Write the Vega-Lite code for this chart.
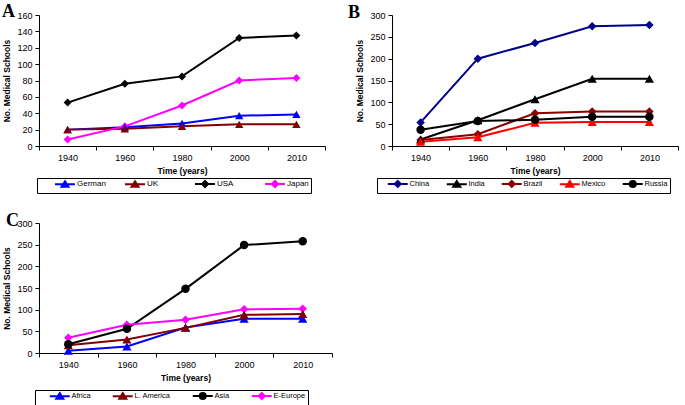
{
  "$schema": "https://vega.github.io/schema/vega-lite/v6.json",
  "background": "white",
  "padding": {"left": 2, "top": 3, "right": 5, "bottom": 0},
  "spacing": 18,
  "config": {
    "view": {"stroke": null},
    "font": "Liberation Sans",
    "axis": {"grid": false, "domainColor": "#000", "tickColor": "#000", "labelColor": "#000", "titleColor": "#000", "labelFontSize": 9, "titleFontSize": 8.5, "titleFontWeight": "bold", "tickSize": 4, "labelFont": "Liberation Sans", "titleFont": "Liberation Sans", "labelPadding": 3},
    "legend": {"labelColor": "#000", "labelFont": "Liberation Sans", "labelFontSize": 8}
  },
  "vconcat": [
    {
      "hconcat": [
        {
          "width": 286, "height": 131,
          "title": {"text": "A", "anchor": "start", "frame": "group", "font": "Liberation Serif", "fontSize": 18, "fontWeight": "bold", "color": "#000", "dx": -37, "offset": -24, "baseline": "alphabetic"},
          "data": {"values": [
            {"year": "1940", "series": "German", "value": 20}, {"year": "1960", "series": "German", "value": 23}, {"year": "1980", "series": "German", "value": 27.5}, {"year": "2000", "series": "German", "value": 37}, {"year": "2010", "series": "German", "value": 38.5},
            {"year": "1940", "series": "UK", "value": 20}, {"year": "1960", "series": "UK", "value": 21}, {"year": "1980", "series": "UK", "value": 24}, {"year": "2000", "series": "UK", "value": 26.5}, {"year": "2010", "series": "UK", "value": 26.5},
            {"year": "1940", "series": "USA", "value": 53}, {"year": "1960", "series": "USA", "value": 76}, {"year": "1980", "series": "USA", "value": 85}, {"year": "2000", "series": "USA", "value": 132}, {"year": "2010", "series": "USA", "value": 135},
            {"year": "1940", "series": "Japan", "value": 8}, {"year": "1960", "series": "Japan", "value": 24}, {"year": "1980", "series": "Japan", "value": 49.5}, {"year": "2000", "series": "Japan", "value": 80}, {"year": "2010", "series": "Japan", "value": 83}
          ]},
          "encoding": {
            "x": {"field": "year", "type": "ordinal", "sort": null, "bandPosition": 0.5, "scale": {"type": "band", "padding": 0}, "axis": {"title": "Time (years)", "labelAngle": 0, "tickBand": "extent", "titlePadding": 4}},
            "y": {"field": "value", "type": "quantitative", "scale": {"domain": [0, 160]}, "axis": {"title": "No. Medical Schools", "values": [0, 20, 40, 60, 80, 100, 120, 140, 160], "titlePadding": 5}}
          },
          "layer": [
            {"mark": {"type": "line", "strokeWidth": 2}, "encoding": {"color": {"field": "series", "type": "nominal", "scale": {"domain": ["German", "UK", "USA", "Japan"], "range": ["#0000FF", "#800000", "#000000", "#FF00FF"]}}}},
            {"transform": [{"filter": "datum.series == 'USA' || datum.series == 'Japan'"}], "mark": {"type": "point", "shape": "diamond", "filled": true, "size": 64, "opacity": 1}, "encoding": {"color": {"field": "series", "type": "nominal"}}},
            {"transform": [{"filter": "datum.series == 'German' || datum.series == 'UK'"}], "mark": {"type": "point", "shape": "triangle-up", "filled": true, "size": 70, "opacity": 1}, "encoding": {"color": {"field": "series", "type": "nominal"}}},
            {"transform": [{"filter": "false"}], "mark": {"type": "point", "filled": false, "opacity": 1, "strokeWidth": 2},
             "encoding": {
               "color": {"field": "series", "type": "nominal", "legend": {"title": null, "orient": "none", "legendX": -2, "legendY": 163, "direction": "horizontal", "columns": 4, "gridAlign": "all", "strokeColor": "#000", "padding": 2, "symbolSize": 4, "symbolStrokeWidth": 2, "symbolOffset": 12, "labelOffset": 18, "columnPadding": 3}},
               "shape": {"field": "series", "type": "nominal", "scale": {"domain": ["German", "UK", "USA", "Japan"], "range": ["M0,0H20M10,-3L13.5,2.5L6.5,2.5ZM10,-0.5L11.2,1.3L8.8,1.3Z", "M0,0H20M10,-3L13.5,2.5L6.5,2.5ZM10,-0.5L11.2,1.3L8.8,1.3Z", "M0,0H20M10,-3L13,0L10,3L7,0ZM10,-1L11,0L10,1L9,0Z", "M0,0H20M10,-3L13,0L10,3L7,0ZM10,-1L11,0L10,1L9,0Z"]}, "legend": {"title": null, "orient": "none", "legendX": -2, "legendY": 163, "direction": "horizontal", "columns": 4, "gridAlign": "all", "strokeColor": "#000", "padding": 2, "symbolSize": 4, "symbolStrokeWidth": 2, "symbolOffset": 12, "labelOffset": 18, "columnPadding": 3}}
             }}
          ]
        },
        {
          "width": 286, "height": 131,
          "title": {"text": "B", "anchor": "start", "frame": "group", "font": "Liberation Serif", "fontSize": 18, "fontWeight": "bold", "color": "#000", "dx": -44, "offset": -25, "baseline": "alphabetic"},
          "data": {"values": [
            {"year": "1940", "series": "China", "value": 54}, {"year": "1960", "series": "China", "value": 200}, {"year": "1980", "series": "China", "value": 236}, {"year": "2000", "series": "China", "value": 274}, {"year": "2010", "series": "China", "value": 277},
            {"year": "1940", "series": "India", "value": 15}, {"year": "1960", "series": "India", "value": 59}, {"year": "1980", "series": "India", "value": 107}, {"year": "2000", "series": "India", "value": 154}, {"year": "2010", "series": "India", "value": 154},
            {"year": "1940", "series": "Brazil", "value": 14}, {"year": "1960", "series": "Brazil", "value": 27}, {"year": "1980", "series": "Brazil", "value": 75}, {"year": "2000", "series": "Brazil", "value": 79}, {"year": "2010", "series": "Brazil", "value": 79},
            {"year": "1940", "series": "Mexico", "value": 10}, {"year": "1960", "series": "Mexico", "value": 20}, {"year": "1980", "series": "Mexico", "value": 53}, {"year": "2000", "series": "Mexico", "value": 55}, {"year": "2010", "series": "Mexico", "value": 55},
            {"year": "1940", "series": "Russia", "value": 37}, {"year": "1960", "series": "Russia", "value": 57}, {"year": "1980", "series": "Russia", "value": 60}, {"year": "2000", "series": "Russia", "value": 67}, {"year": "2010", "series": "Russia", "value": 67}
          ]},
          "encoding": {
            "x": {"field": "year", "type": "ordinal", "sort": null, "bandPosition": 0.5, "scale": {"type": "band", "padding": 0}, "axis": {"title": "Time (years)", "labelAngle": 0, "tickBand": "extent", "titlePadding": 4}},
            "y": {"field": "value", "type": "quantitative", "scale": {"domain": [0, 300]}, "axis": {"title": "No. Medical Schools", "values": [0, 50, 100, 150, 200, 250, 300], "titlePadding": 5}}
          },
          "layer": [
            {"mark": {"type": "line", "strokeWidth": 2}, "encoding": {"color": {"field": "series", "type": "nominal", "scale": {"domain": ["China", "India", "Brazil", "Mexico", "Russia"], "range": ["#00008B", "#000000", "#8B0000", "#FF0000", "#000000"]}}}},
            {"transform": [{"filter": "datum.series == 'China' || datum.series == 'Brazil'"}], "mark": {"type": "point", "shape": "diamond", "filled": true, "size": 72, "opacity": 1}, "encoding": {"color": {"field": "series", "type": "nominal"}}},
            {"transform": [{"filter": "datum.series == 'India' || datum.series == 'Mexico'"}], "mark": {"type": "point", "shape": "triangle-up", "filled": true, "size": 85, "opacity": 1}, "encoding": {"color": {"field": "series", "type": "nominal"}}},
            {"transform": [{"filter": "datum.series == 'Russia'"}], "mark": {"type": "point", "shape": "circle", "filled": true, "size": 72, "opacity": 1}, "encoding": {"color": {"field": "series", "type": "nominal"}}},
            {"transform": [{"filter": "false"}], "mark": {"type": "point", "filled": false, "opacity": 1, "strokeWidth": 2},
             "encoding": {
               "color": {"field": "series", "type": "nominal", "legend": {"title": null, "orient": "none", "legendX": -15, "legendY": 163, "direction": "horizontal", "columns": 5, "strokeColor": "#000", "padding": 2, "symbolSize": 4, "symbolStrokeWidth": 2, "symbolOffset": 5, "labelOffset": 18, "columnPadding": 8, "labelFontSize": 7.5}},
               "shape": {"field": "series", "type": "nominal", "scale": {"domain": ["China", "India", "Brazil", "Mexico", "Russia"], "range": ["M0,0H20M10,-3L13,0L10,3L7,0ZM10,-1L11,0L10,1L9,0Z", "M0,0H20M10,-3L13.5,2.5L6.5,2.5ZM10,-0.5L11.2,1.3L8.8,1.3Z", "M0,0H20M10,-3L13,0L10,3L7,0ZM10,-1L11,0L10,1L9,0Z", "M0,0H20M10,-3L13.5,2.5L6.5,2.5ZM10,-0.5L11.2,1.3L8.8,1.3Z", "M0,0H20M7,0A3,3 0 1,0 13,0A3,3 0 1,0 7,0ZM9,0A1,1 0 1,0 11,0A1,1 0 1,0 9,0Z"]}, "legend": {"title": null, "orient": "none", "legendX": -15, "legendY": 163, "direction": "horizontal", "columns": 5, "strokeColor": "#000", "padding": 2, "symbolSize": 4, "symbolStrokeWidth": 2, "symbolOffset": 5, "labelOffset": 18, "columnPadding": 8, "labelFontSize": 7.5}}
             }}
          ]
        }
      ],
      "spacing": 22,
      "resolve": {"scale": {"color": "independent", "shape": "independent", "x": "independent", "y": "independent"}, "legend": {"color": "independent", "shape": "independent"}}
    },
    {
      "width": 293, "height": 130,
      "title": {"text": "C", "anchor": "start", "frame": "group", "font": "Liberation Serif", "fontSize": 18, "fontWeight": "bold", "color": "#000", "dx": -33, "offset": -25, "baseline": "alphabetic"},
      "data": {"values": [
        {"year": "1940", "series": "Africa", "value": 5}, {"year": "1960", "series": "Africa", "value": 15}, {"year": "1980", "series": "Africa", "value": 59}, {"year": "2000", "series": "Africa", "value": 79}, {"year": "2010", "series": "Africa", "value": 79},
        {"year": "1940", "series": "L. America", "value": 18}, {"year": "1960", "series": "L. America", "value": 31}, {"year": "1980", "series": "L. America", "value": 58}, {"year": "2000", "series": "L. America", "value": 88}, {"year": "2010", "series": "L. America", "value": 90},
        {"year": "1940", "series": "Asia", "value": 20}, {"year": "1960", "series": "Asia", "value": 56}, {"year": "1980", "series": "Asia", "value": 148}, {"year": "2000", "series": "Asia", "value": 249}, {"year": "2010", "series": "Asia", "value": 258},
        {"year": "1940", "series": "E-Europe", "value": 35}, {"year": "1960", "series": "E-Europe", "value": 65}, {"year": "1980", "series": "E-Europe", "value": 77}, {"year": "2000", "series": "E-Europe", "value": 101}, {"year": "2010", "series": "E-Europe", "value": 102}
      ]},
      "encoding": {
        "x": {"field": "year", "type": "ordinal", "sort": null, "bandPosition": 0.5, "scale": {"type": "band", "padding": 0}, "axis": {"title": "Time (years)", "labelAngle": 0, "tickBand": "extent", "titlePadding": 4}},
        "y": {"field": "value", "type": "quantitative", "scale": {"domain": [0, 300]}, "axis": {"title": "No. Medical Schools", "values": [0, 50, 100, 150, 200, 250, 300], "titlePadding": 5}}
      },
      "layer": [
        {"mark": {"type": "line", "strokeWidth": 2}, "encoding": {"color": {"field": "series", "type": "nominal", "scale": {"domain": ["Africa", "L. America", "Asia", "E-Europe"], "range": ["#0000FF", "#800000", "#000000", "#FF00FF"]}}}},
        {"transform": [{"filter": "datum.series == 'E-Europe'"}], "mark": {"type": "point", "shape": "diamond", "filled": true, "size": 72, "opacity": 1}, "encoding": {"color": {"field": "series", "type": "nominal"}}},
        {"transform": [{"filter": "datum.series == 'Africa' || datum.series == 'L. America'"}], "mark": {"type": "point", "shape": "triangle-up", "filled": true, "size": 85, "opacity": 1}, "encoding": {"color": {"field": "series", "type": "nominal"}}},
        {"transform": [{"filter": "datum.series == 'Asia'"}], "mark": {"type": "point", "shape": "circle", "filled": true, "size": 72, "opacity": 1}, "encoding": {"color": {"field": "series", "type": "nominal"}}},
        {"transform": [{"filter": "false"}], "mark": {"type": "point", "filled": false, "opacity": 1, "strokeWidth": 2},
         "encoding": {
           "color": {"field": "series", "type": "nominal", "legend": {"title": null, "orient": "none", "legendX": -4, "legendY": 167, "direction": "horizontal", "columns": 4, "strokeColor": "#000", "padding": 2, "symbolSize": 4, "symbolStrokeWidth": 2, "symbolOffset": 9, "labelOffset": 18, "columnPadding": 9, "labelFontSize": 7.5}},
           "shape": {"field": "series", "type": "nominal", "scale": {"domain": ["Africa", "L. America", "Asia", "E-Europe"], "range": ["M0,0H20M10,-3L13.5,2.5L6.5,2.5ZM10,-0.5L11.2,1.3L8.8,1.3Z", "M0,0H20M10,-3L13.5,2.5L6.5,2.5ZM10,-0.5L11.2,1.3L8.8,1.3Z", "M0,0H20M7,0A3,3 0 1,0 13,0A3,3 0 1,0 7,0ZM9,0A1,1 0 1,0 11,0A1,1 0 1,0 9,0Z", "M0,0H20M10,-3L13,0L10,3L7,0ZM10,-1L11,0L10,1L9,0Z"]}, "legend": {"title": null, "orient": "none", "legendX": -4, "legendY": 167, "direction": "horizontal", "columns": 4, "strokeColor": "#000", "padding": 2, "symbolSize": 4, "symbolStrokeWidth": 2, "symbolOffset": 9, "labelOffset": 18, "columnPadding": 9, "labelFontSize": 7.5}}
         }}
      ]
    }
  ],
  "resolve": {"scale": {"color": "independent", "shape": "independent", "x": "independent", "y": "independent"}, "legend": {"color": "independent", "shape": "independent"}}
}
